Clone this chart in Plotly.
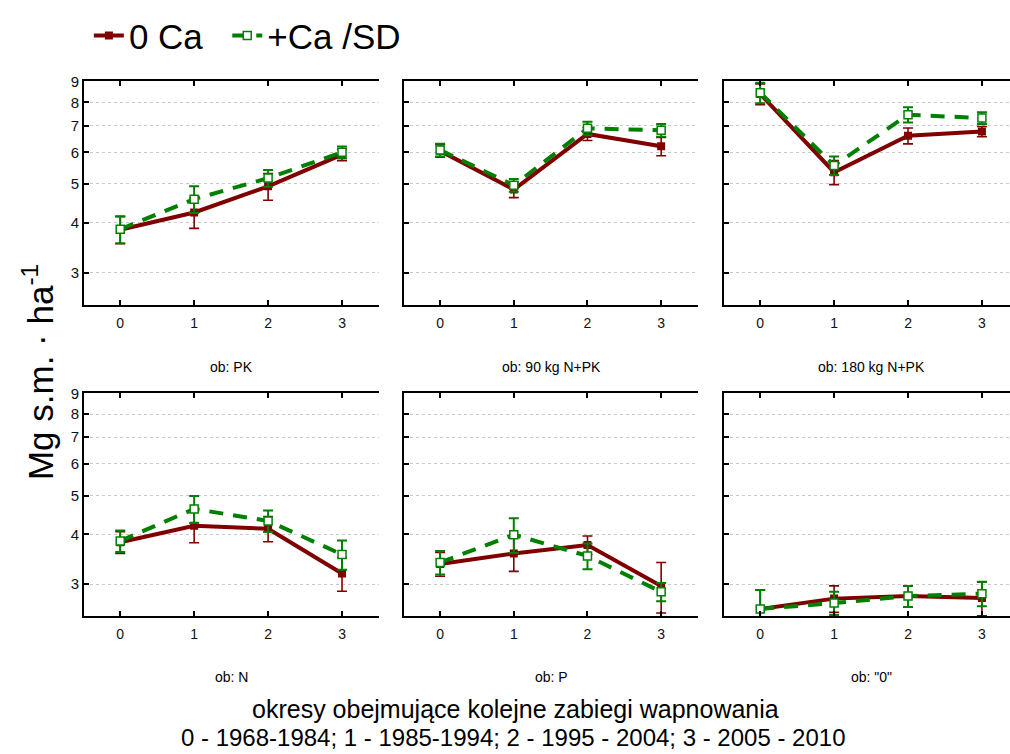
import plotly.graph_objects as go
import math

W, H = 1010, 754

periods = [0, 1, 2, 3]
period_labels = ["0", "1", "2", "3"]
panel_titles = ["ob: PK", "ob: 90 kg N+PK", "ob: 180 kg N+PK", "ob: N", "ob: P", 'ob: "0"']
series_names = ["0 Ca", "+Ca /SD"]

# 0 Ca (means and SD), one list per panel
ca0_pk = [3.84, 4.24, 4.93, 5.92]
ca0_90 = [6.05, 4.84, 6.67, 6.21]
ca0_180 = [8.40, 5.35, 6.60, 6.76]
ca0_n = [3.82, 4.20, 4.13, 3.19]
ca0_p = [3.37, 3.58, 3.76, 2.97]
ca0_0 = [2.60, 2.76, 2.80, 2.77]

ca0_sd_pk = [0.30, 0.37, 0.38, 0.20]
ca0_sd_90 = [0.22, 0.22, 0.25, 0.33]
ca0_sd_180 = [0.50, 0.37, 0.30, 0.20]
ca0_sd_n = [0.24, 0.39, 0.30, 0.31]
ca0_sd_p = [0.23, 0.35, 0.20, 0.43]
ca0_sd_0 = [0.30, 0.21, 0.17, 0.27]

# +Ca
ca_pk = [3.85, 4.58, 5.17, 6.00]
ca_90 = [6.08, 4.96, 6.89, 6.81]
ca_180 = [8.46, 5.56, 7.45, 7.31]
ca_n = [3.85, 4.63, 4.32, 3.56]
ca_p = [3.40, 3.99, 3.53, 2.87]
ca_0 = [2.60, 2.69, 2.80, 2.84]

ca_sd_pk = [0.30, 0.35, 0.25, 0.20]
ca_sd_90 = [0.22, 0.18, 0.27, 0.25]
ca_sd_180 = [0.50, 0.30, 0.33, 0.25]
ca_sd_n = [0.24, 0.36, 0.27, 0.30]
ca_sd_p = [0.23, 0.40, 0.26, 0.15]
ca_sd_0 = [0.30, 0.18, 0.17, 0.20]

ca0_means = [ca0_pk, ca0_90, ca0_180, ca0_n, ca0_p, ca0_0]
ca0_sds = [ca0_sd_pk, ca0_sd_90, ca0_sd_180, ca0_sd_n, ca0_sd_p, ca0_sd_0]
ca_means = [ca_pk, ca_90, ca_180, ca_n, ca_p, ca_0]
ca_sds = [ca_sd_pk, ca_sd_90, ca_sd_180, ca_sd_n, ca_sd_p, ca_sd_0]

y_ticks = [3, 4, 5, 6, 7, 8, 9]

RED = "#800000"
GREEN = "#008000"
FONT = "Liberation Sans, Arial, sans-serif"
NARROW = "Liberation Sans Narrow, Arial Narrow, Liberation Sans, sans-serif"

# panel geometry in pixels
col_px = [(84, 379), (404, 698), (724, 1010)]
row_px = [(74, 300), (389, 615)]
x_ranges = [[-0.49, 3.5], [-0.49, 3.5], [-0.49, 3.38]]
label_cx = [231, 551, 871]

fig = go.Figure()
layout = {}

for i in range(6):
    r, c = divmod(i, 3)
    n = i + 1
    xa = "x" if n == 1 else f"x{n}"
    ya = "y" if n == 1 else f"y{n}"
    y2n = n + 6
    x0, x1 = col_px[c]
    t0, t1 = row_px[r]
    xd = [x0 / W, x1 / W]
    yd = [(H - t1) / H, (H - t0) / H]

    layout[f"xaxis{'' if n == 1 else n}"] = dict(
        domain=xd, anchor=ya, range=x_ranges[c],
        tickmode="array", tickvals=periods, ticktext=period_labels,
        ticks="inside", ticklen=5, tickwidth=2, tickcolor="black",
        showline=True, linecolor="black", linewidth=2, mirror="ticks",
        showgrid=False, zeroline=False,
        tickfont=dict(family=FONT, size=14, color="#111"),
        ticklabelstandoff=4,
    )
    layout[f"yaxis{'' if n == 1 else n}"] = dict(
        domain=yd, anchor=xa, type="log",
        range=[math.log10(2.49), math.log10(9.04)],
        tickmode="array", tickvals=y_ticks,
        ticktext=[str(v) for v in y_ticks],
        showticklabels=(c == 0),
        ticks="inside", ticklen=5, tickwidth=2, tickcolor="black",
        showline=True, linecolor="black", linewidth=2, mirror=False,
        showgrid=True, gridcolor="#c8c8c8", griddash="dot", gridwidth=1,
        zeroline=False,
        tickfont=dict(family=FONT, size=15, color="#111"),
    )
    layout[f"yaxis{y2n}"] = dict(
        overlaying=ya, anchor=xa, side="right",
        range=[0, 6.49], tickmode="array",
        tickvals=[0.5, 1.5, 2.5, 3.5, 4.5, 5.5],
        showticklabels=False, ticks="inside", ticklen=5, tickwidth=2,
        tickcolor="black", showline=(c != 2), linecolor="black", linewidth=2,
        showgrid=False, zeroline=False,
    )

    fig.add_trace(go.Scatter(
        x=periods, y=ca0_means[i], xaxis=xa, yaxis=ya,
        mode="lines+markers", name=series_names[0] + "\u00a0\u00a0",
        legendgroup="a", showlegend=(i == 0),
        line=dict(color=RED, width=4),
        marker=dict(symbol="square", size=8, color=RED),
        error_y=dict(type="data", array=ca0_sds[i], visible=True,
                     color=RED, thickness=1.6, width=5),
    ))
    fig.add_trace(go.Scatter(
        x=periods, y=ca_means[i], xaxis=xa, yaxis=ya,
        mode="lines+markers", name=series_names[1],
        legendgroup="b", showlegend=(i == 0),
        line=dict(color=GREEN, width=4, dash="14px,10px"),
        marker=dict(symbol="square", size=8, color="white",
                    line=dict(color=GREEN, width=1.5)),
        error_y=dict(type="data", array=ca_sds[i], visible=True,
                     color=GREEN, thickness=2, width=5),
    ))

annotations = []
label_y = [363, 676]
for i, t in enumerate(panel_titles):
    r, c = divmod(i, 3)
    annotations.append(dict(
        text=t, x=label_cx[c] / W, y=(H - label_y[r]) / H,
        xref="paper", yref="paper", showarrow=False,
        xanchor="center", yanchor="middle",
        font=dict(family=NARROW, size=14, color="black"),
    ))

annotations.append(dict(
    text="okresy obejmujące kolejne zabiegi wapnowania",
    x=515 / W, y=(H - 709) / H, xref="paper", yref="paper",
    showarrow=False, xanchor="center", yanchor="middle",
    font=dict(family=NARROW, size=25, color="black"),
))
annotations.append(dict(
    text="0 - 1968-1984; 1 - 1985-1994; 2 - 1995 - 2004; 3 - 2005 - 2010",
    x=513 / W, y=(H - 737) / H, xref="paper", yref="paper",
    showarrow=False, xanchor="center", yanchor="middle",
    font=dict(family=NARROW, size=24, color="black"),
))
annotations.append(dict(
    text="Mg s.m. · ha<sup>-1</sup>",
    x=38 / W, y=(H - 368) / H, xref="paper", yref="paper",
    showarrow=False, xanchor="center", yanchor="middle", textangle=-90,
    font=dict(family=FONT, size=35, color="black"),
))

fig.update_layout(
    width=W, height=H,
    margin=dict(l=0, r=0, t=0, b=0),
    paper_bgcolor="white", plot_bgcolor="white",
    showlegend=True,
    legend=dict(
        orientation="h", x=0.088, y=(H - 28) / H,
        xanchor="left", yanchor="middle",
        font=dict(family=FONT, size=35, color="black"),
        bgcolor="rgba(0,0,0,0)", itemwidth=30, tracegroupgap=0,
    ),
    annotations=annotations,
    **layout,
)

fig.write_html("out.html")
